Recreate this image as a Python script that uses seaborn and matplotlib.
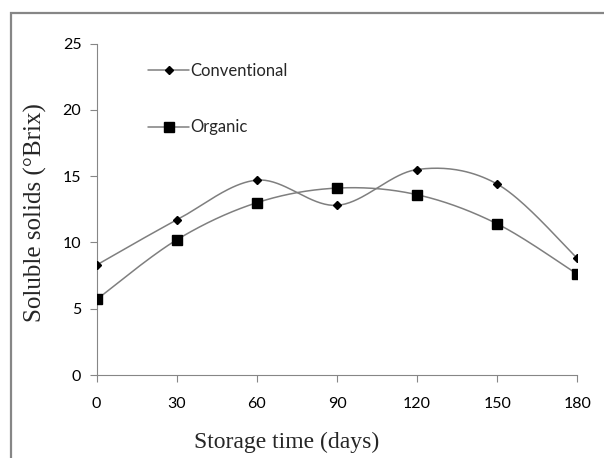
import numpy as np
import pandas as pd
import matplotlib
matplotlib.use("Agg")
import matplotlib.pyplot as plt
import seaborn as sns
from matplotlib.patches import Rectangle

# data
days = [0, 30, 60, 90, 120, 150, 180]
conventional = [8.3, 11.7, 14.7, 12.8, 15.5, 14.4, 8.8]
organic = [5.7, 10.2, 13.0, 14.1, 13.6, 11.4, 7.6]
x_ticks = [0, 30, 60, 90, 120, 150, 180]
y_ticks = [0, 5, 10, 15, 20, 25]


def smooth(x, y, n=40):
    # Excel-like smoothed line (Catmull-Rom through the points)
    x = np.asarray(x, float)
    y = np.asarray(y, float)
    px = np.concatenate([[x[0]], x, [x[-1]]])
    py = np.concatenate([[y[0]], y, [y[-1]]])
    xs, ys = [], []
    t = np.linspace(0, 1, n)
    for i in range(1, len(px) - 2):
        p0, p1, p2, p3 = (np.array([px[j], py[j]]) for j in (i - 1, i, i + 1, i + 2))
        c1 = p1 + (p2 - p0) / 6
        c2 = p2 - (p3 - p1) / 6
        pts = (((1 - t) ** 3)[:, None] * p1 + (3 * (1 - t) ** 2 * t)[:, None] * c1
               + (3 * (1 - t) * t ** 2)[:, None] * c2 + (t ** 3)[:, None] * p2)
        xs.extend(pts[:, 0])
        ys.extend(pts[:, 1])
    return np.array(xs), np.array(ys)


sns.set_theme(style="white")
plt.rcParams["font.family"] = ["Lato", "DejaVu Sans"]

fig = plt.figure(figsize=(6.04, 4.58), dpi=100)
ax = fig.add_axes([0.160, 0.181, 0.796, 0.724])

line_col = "#7f7f7f"
axis_col = "#868686"

for vals, marker, ms, name in [(conventional, "D", 4.5, "Conventional"),
                               (organic, "s", 6.5, "Organic")]:
    sx, sy = smooth(days, vals)
    sns.lineplot(x=sx, y=sy, ax=ax, color=line_col, linewidth=1.1,
                 sort=False, estimator=None, legend=False)
    ax.plot(days, vals, linestyle="none", marker=marker, markersize=ms,
            color="black", zorder=3)
    ax.plot([], [], color=line_col, linewidth=1.1, marker=marker,
            markersize=ms, markerfacecolor="black", markeredgecolor="black",
            label=name)

ax.set_xlim(0, 180)
ax.set_ylim(0, 25)
ax.set_xticks(x_ticks)
ax.set_yticks(y_ticks)
ax.tick_params(axis="both", direction="out", length=5, width=0.8,
               color=axis_col, labelsize=11.5, labelcolor="black")
ax.tick_params(axis="y", pad=6)
ax.tick_params(axis="x", pad=10.5)
ax.tick_params(axis="both", which="both", left=True, bottom=True)

for side in ["top", "right"]:
    ax.spines[side].set_visible(False)
for side in ["left", "bottom"]:
    ax.spines[side].set_color(axis_col)
    ax.spines[side].set_linewidth(0.8)

ax.set_xlabel("Storage time (days)", family="Liberation Serif", fontsize=17)
ax.set_ylabel("Soluble solids (°Brix)", family="Liberation Serif", fontsize=18)
ax.xaxis.set_label_coords(0.396, -0.172)
ax.yaxis.set_label_coords(-0.103, 0.49)

leg = ax.legend(loc="upper left", bbox_to_anchor=(0.107, 0.941), frameon=False,
                handlelength=2.45, handletextpad=0.1, labelspacing=2.42,
                borderpad=0, borderaxespad=0, fontsize=12)

# outer chart border like the Excel chart area
fig.patches.append(Rectangle((11 / 604, -0.2), 1.5, 0.2 + 1 - 13 / 458,
                             transform=fig.transFigure, fill=False,
                             edgecolor=axis_col, linewidth=1.6))

fig.savefig("out.png", dpi=100)
